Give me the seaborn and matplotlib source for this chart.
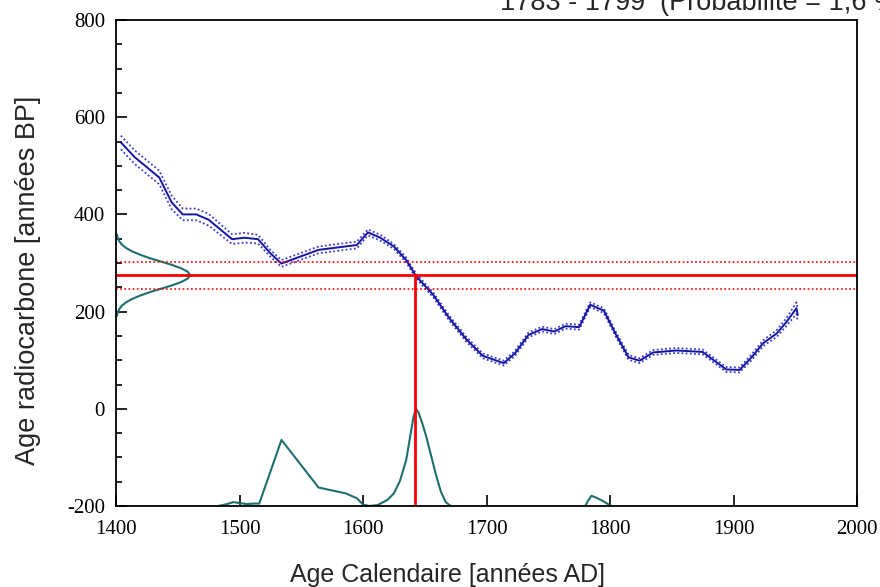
import numpy as np
import pandas as pd
import matplotlib
matplotlib.use("Agg")
import matplotlib.pyplot as plt
import seaborn as sns
from matplotlib.ticker import MultipleLocator

# calibration curve
cal_year = [1404, 1415, 1435, 1445, 1454, 1465, 1475, 1494, 1504, 1515,
            1525, 1534, 1549, 1564, 1595, 1604, 1614, 1625, 1635, 1643,
            1657, 1670, 1684, 1697, 1714, 1723, 1734, 1745, 1755, 1764,
            1775, 1784, 1795, 1805, 1815, 1824, 1835, 1854, 1875, 1884,
            1894, 1905, 1915, 1924, 1935, 1943, 1951, 1952]
cal_bp = [548, 518, 476, 425, 400, 400, 389, 349, 352, 349,
          320, 299, 313, 327, 337, 363, 352, 334, 306, 273,
          234, 186, 142, 109, 94, 114, 152, 164, 159, 170,
          168, 214, 202, 152, 106, 99, 116, 120, 117, 100,
          81, 80, 107, 135, 155, 179, 207, 193]
cal_err = [14, 14, 14, 14, 12, 12, 12, 10, 10, 9,
           7, 7, 7, 7, 7, 6, 6, 5, 5, 5,
           5, 5, 5, 5, 5, 5, 5, 5, 5, 5,
           5, 5, 5, 5, 5, 5, 5, 5, 5, 5,
           5, 5, 6, 6, 7, 8, 12, 12]

# measured radiocarbon age and its error
meas_bp = 275
meas_err = 28
cal_date = 1642

# measurement distribution drawn on the y axis (width in years)
gauss_bp = [191, 198, 205, 212, 219, 226, 233, 240, 247, 254, 261, 268, 275,
            282, 289, 296, 303, 310, 317, 324, 331, 338, 345, 352, 359]
gauss_w = [0.7, 1.4, 2.6, 4.7, 8.1, 13.0, 19.5, 27.3, 36.4, 45.4, 52.9, 58.1, 60,
           58.1, 52.9, 45.4, 36.4, 27.3, 19.5, 13.0, 8.1, 4.7, 2.6, 1.4, 0.7]

# calibrated probability on the x axis (height above -200)
prob_year_a = [1483, 1490, 1495, 1500, 1506, 1512, 1516, 1534, 1564, 1586,
               1595, 1600, 1605, 1612, 1620, 1625, 1630, 1635, 1638, 1641,
               1643, 1645, 1648, 1651, 1655, 1659, 1663, 1667, 1671]
prob_h_a = [0, 4, 8, 6, 4, 5, 5, 136, 38, 26,
            16, 3, 0, 2, 13, 26, 52, 95, 140, 185,
            200, 192, 170, 145, 105, 65, 30, 8, 0]
prob_year_b = [1780, 1782, 1785, 1789, 1793, 1797, 1801]
prob_h_b = [0, 10, 21, 17, 12, 6, 0]

title = "1783 - 1799  (Probabilité = 1,6 %)"

sns.set_theme(style="ticks")
plt.rcParams["font.family"] = ["Liberation Serif", "DejaVu Serif"]
plt.rcParams["axes.unicode_minus"] = False

W, H = 880, 587
fig = plt.figure(figsize=(W / 100, H / 100), dpi=100)
ax = fig.add_axes([116 / W, 81 / H, 741 / W, 486 / H])

blue = "#1414a0"
blue_dot = "#3a3ad0"
teal = "#1f6e6e"

df = pd.DataFrame({"year": cal_year, "bp": cal_bp, "err": cal_err})
df["hi"] = df["bp"] + df["err"]
df["lo"] = df["bp"] - df["err"]

for col in ["hi", "lo"]:
    sns.lineplot(data=df, x="year", y=col, ax=ax, color=blue_dot, lw=1.3,
                 linestyle=(0, (1, 1.3)), estimator=None, sort=False)
sns.lineplot(data=df, x="year", y="bp", ax=ax, color=blue, lw=1.4,
             estimator=None, sort=False)

# gaussian of the measurement
gx = [1400 + w for w in gauss_w]
sns.lineplot(x=gx, y=gauss_bp, ax=ax, color=teal, lw=1.5, estimator=None, sort=False)

# calibrated distribution
sns.lineplot(x=prob_year_a, y=[-200 + h for h in prob_h_a], ax=ax, color=teal,
             lw=1.5, estimator=None, sort=False)
sns.lineplot(x=prob_year_b, y=[-200 + h for h in prob_h_b], ax=ax, color=teal,
             lw=1.5, estimator=None, sort=False)

# measurement lines
ax.axhline(meas_bp, color="red", lw=2)
ax.axhline(meas_bp + meas_err, color="red", lw=1.2, linestyle=(0, (1, 1.5)))
ax.axhline(meas_bp - meas_err, color="red", lw=1.2, linestyle=(0, (1, 1.5)))
ax.plot([cal_date, cal_date], [-200, meas_bp], color="red", lw=2)

ax.set_xlim(1400, 2000)
ax.set_ylim(-200, 800)
ax.xaxis.set_major_locator(MultipleLocator(100))
ax.yaxis.set_major_locator(MultipleLocator(200))
ax.yaxis.set_minor_locator(MultipleLocator(50))
ax.tick_params(axis="both", which="both", direction="in", colors="black",
               labelsize=15, top=False, right=False)
ax.tick_params(axis="both", which="major", length=8, width=1.2)
ax.tick_params(axis="y", which="minor", length=4.5, width=1.2)
ax.tick_params(axis="x", pad=10)
ax.tick_params(axis="y", pad=8)
for s in ax.spines.values():
    s.set_linewidth(1.3)
    s.set_color("black")
ax.set_xlabel("")
ax.set_ylabel("")

fig.text(448 / W, 1 - 575 / H, "Age Calendaire [années AD]", ha="center",
         va="center", fontsize=18, family="Liberation Sans")
fig.text(28 / W, 1 - 280 / H, "Age radiocarbone [années BP]", ha="center",
         va="center", rotation=90, fontsize=19.5, family="Liberation Sans")

fig.text(500 / W, 1 - 10 / H, title, ha="left", va="baseline",
         fontsize=19.5, family="Liberation Sans")

fig.savefig("out.png", dpi=100)
